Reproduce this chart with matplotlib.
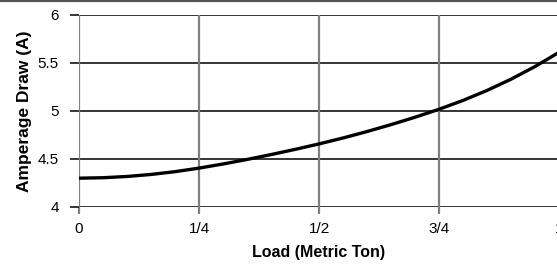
import matplotlib
matplotlib.use("Agg")
import matplotlib.pyplot as plt
from matplotlib import font_manager as fm
from matplotlib.lines import Line2D

load = [0.00, 0.05, 0.10, 0.15, 0.20, 0.25, 0.30, 0.35, 0.40, 0.45, 0.50,
        0.55, 0.60, 0.65, 0.70, 0.75, 0.80, 0.85, 0.90, 0.95, 1.00]
amps = [4.300, 4.305, 4.318, 4.339, 4.368, 4.405, 4.448, 4.495, 4.546, 4.600, 4.657,
        4.719, 4.786, 4.858, 4.935, 5.018, 5.110, 5.214, 5.331, 5.463, 5.611]
x_ticks = [0, 0.25, 0.5, 0.75, 1.0]
x_labels = ["0", "1/4", "1/2", "3/4", "1"]
y_ticks = [4, 4.5, 5, 5.5, 6]
y_labels = ["4", "4.5", "5", "5.5", "6"]

names = {f.name for f in fm.fontManager.ttflist}
fam = "Liberation Sans Narrow" if "Liberation Sans Narrow" in names else "Liberation Sans"

fig = plt.figure(figsize=(5.57, 2.68), dpi=100)
ax = fig.add_axes([79/557, 1-207/268, 480/557, 192/268])
ax.set_xlim(0, 1)
ax.set_ylim(4, 6)

for y in y_ticks:
    ax.axhline(y, color="black", lw=1.1, zorder=1)
for x in x_ticks:
    ax.axvline(x, color="#808080", lw=1.6, zorder=1)

ax.plot(load, amps, color="black", lw=2.4, zorder=3, solid_capstyle="butt")

for s in ax.spines.values():
    s.set_visible(False)

ax.set_xticks(x_ticks)
ax.set_xticklabels(x_labels, fontfamily=fam, fontsize=11)
ax.set_yticks(y_ticks)
ax.set_yticklabels(y_labels, fontfamily=fam, fontsize=11)
ax.tick_params(axis="y", length=6.5, width=1.1, color="black", pad=8)
ax.tick_params(axis="x", length=5, width=1.6, color="#808080", pad=6)

ax.set_xlabel("Load (Metric Ton)", fontfamily=fam, fontweight="bold", fontsize=11.5, labelpad=6)
ax.set_ylabel("Amperage Draw (A)", fontfamily=fam, fontweight="bold", fontsize=12.5, labelpad=4)

fig.add_artist(Line2D([0, 1], [1-1/268, 1-1/268], transform=fig.transFigure, color="#555555", lw=1.6))

fig.savefig("out.png", dpi=100)
